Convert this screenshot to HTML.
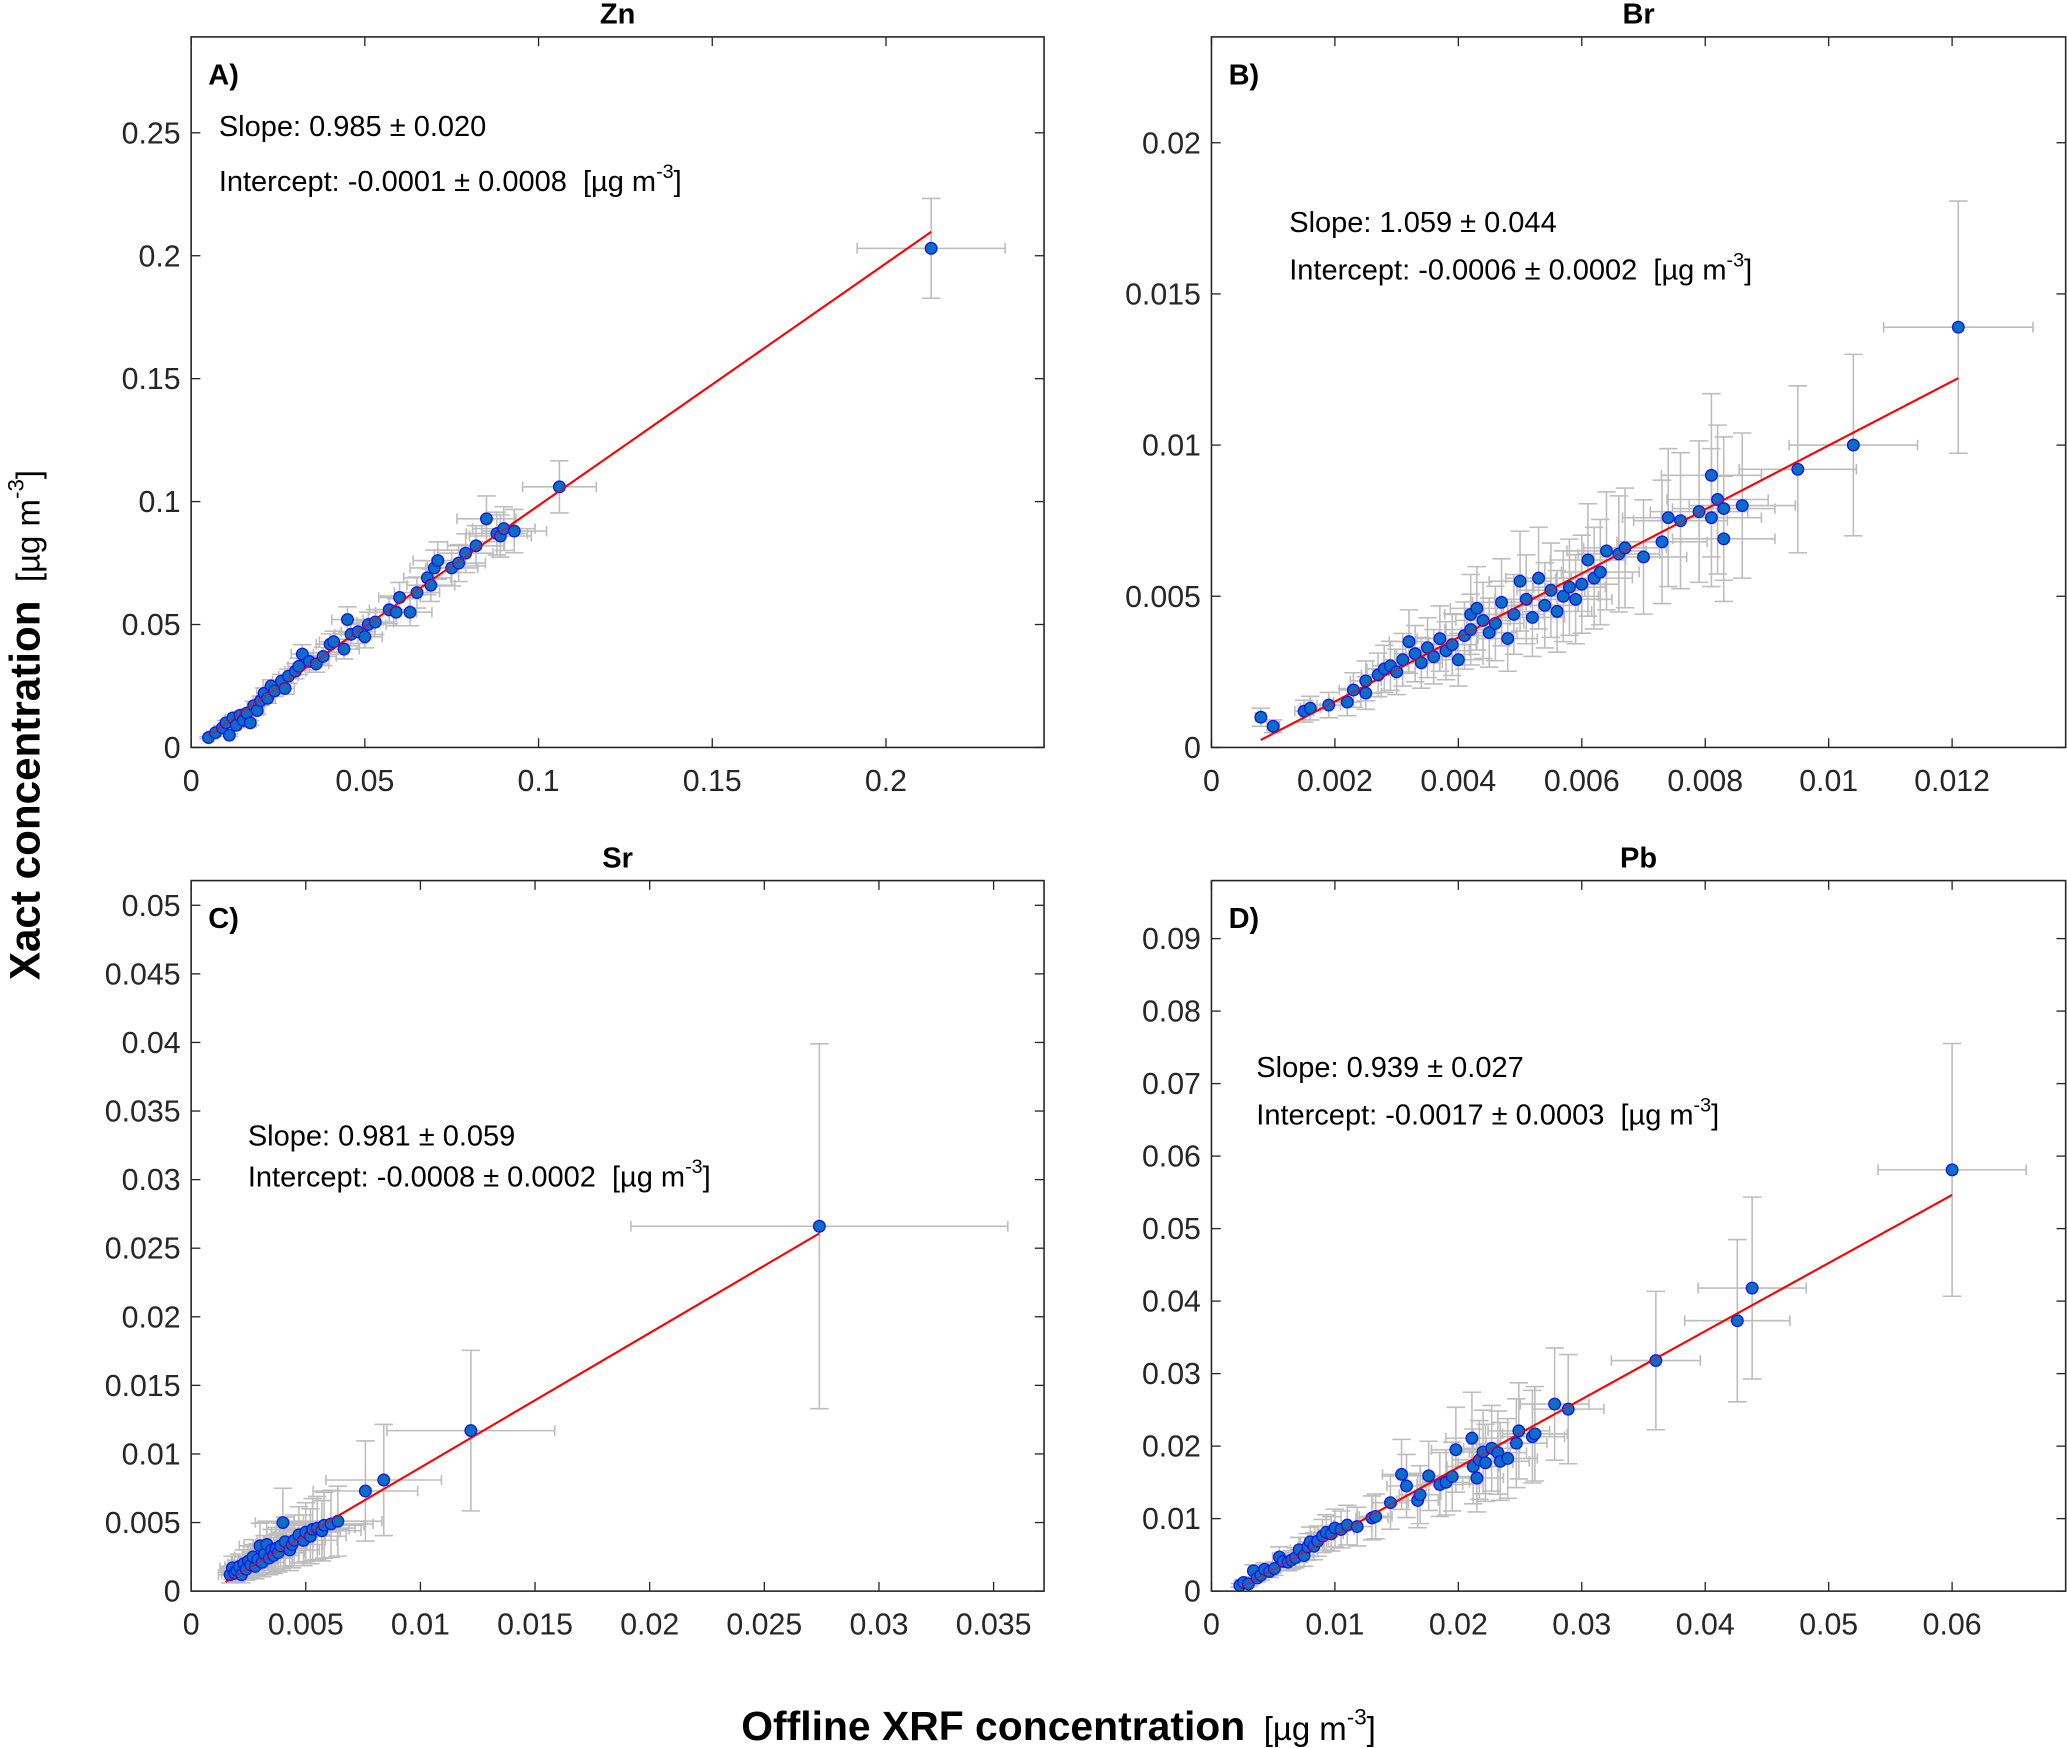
<!DOCTYPE html>
<html><head><meta charset="utf-8"><style>
html,body{margin:0;padding:0;background:#fff;}
svg{display:block;}
.tick{font-family:"Liberation Sans Narrow","Liberation Sans",sans-serif;font-size:23px;fill:#262626;}
.ann{font-family:"Liberation Sans",sans-serif;font-size:22px;fill:#000;white-space:pre;}
.ttl{font-family:"Liberation Sans",sans-serif;font-size:22px;font-weight:bold;fill:#000;}
</style></head><body>
<svg id="fig" xmlns="http://www.w3.org/2000/svg" width="2067" height="1748" viewBox="0 0 1568 1326">
<g id="root"></g>
<text transform="translate(30,550) rotate(-90)" text-anchor="middle" font-family="Liberation Sans, sans-serif"><tspan font-weight="bold" font-size="32">Xact concentration</tspan><tspan font-size="25" dx="14">[µg m</tspan><tspan font-size="17" dy="-12">-3</tspan><tspan font-size="25" dy="12">]</tspan></text>
<text x="803" y="1320" text-anchor="middle" font-family="Liberation Sans, sans-serif"><tspan font-weight="bold" font-size="31">Offline XRF concentration</tspan><tspan font-size="25" dx="14">[µg m</tspan><tspan font-size="17" dy="-12">-3</tspan><tspan font-size="25" dy="12">]</tspan></text>
</svg>
<script>
// Zn data [x, y]
const znPoints=[[0.005,0.004],[0.007,0.006],[0.009,0.008],[0.010,0.010],[0.011,0.005],[0.012,0.012],[0.013,0.009],[0.014,0.013],[0.015,0.011],[0.016,0.014],[0.017,0.010],[0.018,0.017],[0.019,0.015],[0.020,0.019],[0.021,0.022],[0.022,0.020],[0.023,0.025],[0.024,0.023],[0.026,0.027],[0.027,0.024],[0.028,0.029],[0.030,0.031],[0.031,0.033],[0.032,0.038],[0.034,0.035],[0.036,0.034],[0.038,0.037],[0.040,0.042],[0.041,0.043],[0.044,0.040],[0.045,0.052],[0.046,0.046],[0.048,0.047],[0.050,0.045],[0.051,0.050],[0.053,0.051],[0.057,0.056],[0.059,0.055],[0.060,0.061],[0.063,0.055],[0.065,0.063],[0.068,0.069],[0.069,0.066],[0.070,0.073],[0.071,0.076],[0.075,0.073],[0.077,0.075],[0.079,0.079],[0.082,0.082],[0.085,0.093],[0.088,0.087],[0.089,0.086],[0.090,0.089],[0.093,0.088],[0.106,0.106],[0.213,0.203]];
const brPoints=[[0.0008,0.0010],[0.0010,0.0007],[0.0015,0.0012],[0.0016,0.0013],[0.0019,0.0014],[0.0022,0.0015],[0.0023,0.0019],[0.0025,0.0018],[0.0025,0.0022],[0.0027,0.0024],[0.0028,0.0026],[0.0029,0.0027],[0.0030,0.0025],[0.0031,0.0029],[0.0032,0.0035],[0.0033,0.0031],[0.0034,0.0028],[0.0035,0.0033],[0.0036,0.0030],[0.0037,0.0036],[0.0038,0.0032],[0.0039,0.0034],[0.0040,0.0029],[0.0041,0.0037],[0.0042,0.0044],[0.0042,0.0039],[0.0043,0.0046],[0.0044,0.0042],[0.0045,0.0038],[0.0046,0.0041],[0.0047,0.0048],[0.0048,0.0036],[0.0049,0.0044],[0.0050,0.0055],[0.0051,0.0049],[0.0052,0.0043],[0.0053,0.0056],[0.0054,0.0047],[0.0055,0.0052],[0.0056,0.0045],[0.0057,0.0050],[0.0058,0.0053],[0.0059,0.0049],[0.0060,0.0054],[0.0061,0.0062],[0.0062,0.0056],[0.0063,0.0058],[0.0064,0.0065],[0.0066,0.0064],[0.0067,0.0066],[0.0070,0.0063],[0.0073,0.0068],[0.0074,0.0076],[0.0076,0.0075],[0.0079,0.0078],[0.0081,0.0090],[0.0081,0.0076],[0.0082,0.0082],[0.0083,0.0079],[0.0083,0.0069],[0.0086,0.0080],[0.0095,0.0092],[0.0104,0.0100],[0.0121,0.0139]];
const srPoints=[[0.0017,0.0012],[0.0018,0.0017],[0.0019,0.0013],[0.0020,0.0015],[0.0021,0.0018],[0.0022,0.0012],[0.0023,0.0020],[0.0024,0.0016],[0.0025,0.0022],[0.0026,0.0019],[0.0027,0.0025],[0.0028,0.0018],[0.0029,0.0023],[0.0030,0.0033],[0.0031,0.0021],[0.0032,0.0027],[0.0033,0.0034],[0.0034,0.0024],[0.0035,0.0030],[0.0036,0.0026],[0.0037,0.0031],[0.0038,0.0028],[0.0039,0.0033],[0.0040,0.0050],[0.0041,0.0036],[0.0043,0.0030],[0.0044,0.0034],[0.0045,0.0037],[0.0047,0.0041],[0.0049,0.0037],[0.0050,0.0043],[0.0052,0.0040],[0.0053,0.0045],[0.0055,0.0046],[0.0057,0.0044],[0.0058,0.0048],[0.0061,0.0049],[0.0064,0.0051],[0.0076,0.0073],[0.0084,0.0081],[0.0122,0.0117],[0.0274,0.0266]];
const pbPoints=[[0.0023,0.0008],[0.0026,0.0012],[0.0030,0.0010],[0.0034,0.0028],[0.0037,0.0018],[0.0040,0.0022],[0.0043,0.0030],[0.0047,0.0027],[0.0051,0.0031],[0.0055,0.0047],[0.0058,0.0041],[0.0062,0.0040],[0.0065,0.0043],[0.0068,0.0046],[0.0071,0.0057],[0.0075,0.0049],[0.0078,0.0061],[0.0080,0.0068],[0.0083,0.0062],[0.0086,0.0069],[0.0090,0.0076],[0.0093,0.0081],[0.0097,0.0079],[0.0100,0.0087],[0.0105,0.0085],[0.0110,0.0091],[0.0118,0.0089],[0.0130,0.0101],[0.0133,0.0103],[0.0145,0.0122],[0.0154,0.0161],[0.0158,0.0145],[0.0167,0.0125],[0.0169,0.0133],[0.0176,0.0159],[0.0185,0.0147],[0.0190,0.0150],[0.0195,0.0158],[0.0198,0.0195],[0.0211,0.0211],[0.0212,0.0172],[0.0215,0.0156],[0.0217,0.0181],[0.0220,0.0192],[0.0222,0.0177],[0.0227,0.0197],[0.0232,0.0191],[0.0234,0.0179],[0.0240,0.0183],[0.0247,0.0204],[0.0249,0.0221],[0.0260,0.0213],[0.0262,0.0217],[0.0278,0.0258],[0.0289,0.0251],[0.0360,0.0318],[0.0426,0.0373],[0.0438,0.0418],[0.0600,0.0581]];
// relative uncertainties [x, y]
const znRelErr=[0.10,0.10];
const brRelErr=[0.10,0.30];
const srRelErr=[0.30,0.50];
const pbRelErr=[0.10,0.30];
// fit [slope, intercept, xStart, xEnd]
const znFit=[0.985,-0.0001,0.005,0.213];
const brFit=[1.059,-0.0006,0.0008,0.0121];
const srFit=[0.981,-0.0008,0.0015,0.0274];
const pbFit=[0.939,-0.0017,0.0023,0.0600];
const znXTicks=[0,0.05,0.1,0.15,0.2], znYTicks=[0,0.05,0.1,0.15,0.2,0.25];
const brXTicks=[0,0.002,0.004,0.006,0.008,0.01,0.012], brYTicks=[0,0.005,0.01,0.015,0.02];
const srXTicks=[0,0.005,0.01,0.015,0.02,0.025,0.03,0.035], srYTicks=[0,0.005,0.01,0.015,0.02,0.025,0.03,0.035,0.04,0.045,0.05];
const pbXTicks=[0,0.01,0.02,0.03,0.04,0.05,0.06], pbYTicks=[0,0.01,0.02,0.03,0.04,0.05,0.06,0.07,0.08,0.09];
const znXMax=0.2455, znYMax=0.289, brXMax=0.01384, brYMax=0.0235, srXMax=0.0372, srYMax=0.0518, pbXMax=0.0692, pbYMax=0.098;

const NS='http://www.w3.org/2000/svg';
const root=document.getElementById('root');
function mk(tag,attrs,parent){const e=document.createElementNS(NS,tag);for(const k in attrs)e.setAttribute(k,attrs[k]);(parent||root).appendChild(e);return e;}

function panel(o){
  const g=mk('g',{});
  
  
  const X=v=>o.x0+(v/o.xMax)*(o.x1-o.x0);
  const Y=v=>o.y1-(v/o.yMax)*(o.y1-o.y0);
  const t=mk('text',{x:(o.x0+o.x1)/2,y:o.y0-10,'text-anchor':'middle',class:'ttl'},g);t.textContent=o.title;
  
  
  o.xt.forEach(v=>{
    const x=X(v);
    mk('line',{x1:x,x2:x,y1:o.y1,y2:o.y1-7,stroke:'#262626','stroke-width':1},g);
    mk('line',{x1:x,x2:x,y1:o.y0,y2:o.y0+7,stroke:'#262626','stroke-width':1},g);
    const l=mk('text',{x:x,y:o.y1+33,'text-anchor':'middle',class:'tick'},g);l.textContent=String(v);
    
    
  });
  o.yt.forEach(v=>{
    const y=Y(v);
    mk('line',{x1:o.x0,x2:o.x0+7,y1:y,y2:y,stroke:'#262626','stroke-width':1},g);
    mk('line',{x1:o.x1,x2:o.x1-7,y1:y,y2:y,stroke:'#262626','stroke-width':1},g);
    const l=mk('text',{x:o.x0-8,y:y+8,'text-anchor':'end',class:'tick'},g);l.textContent=String(v);
    
    
  });
  const eb=mk('g',{stroke:'#bdbdbd','stroke-width':1.2,fill:'none'},g);
  
  
  o.pts.forEach(p=>{
    const xe=p[0]*o.rel[0], ye=p[1]*o.rel[1];
    const cx=X(p[0]), cy=Y(p[1]);
    const xa=X(p[0]-xe), xb=X(p[0]+xe), ya=Y(p[1]-ye), yb=Y(p[1]+ye);
    mk('path',{d:`M${xa},${cy}H${xb}M${xa},${cy-4}V${cy+4}M${xb},${cy-4}V${cy+4}M${cx},${ya}V${yb}M${cx-7},${ya}H${cx+7}M${cx-7},${yb}H${cx+7}`},eb);
  });
  const f=o.fit;
  const fl=mk('line',{x1:X(f[2]),y1:Y(f[0]*f[2]+f[1]),x2:X(f[3]),y2:Y(f[0]*f[3]+f[1]),stroke:'#ff0000','stroke-width':1.6},g);
  
  
  o.pts.forEach(p=>{
    const c=mk('circle',{cx:X(p[0]),cy:Y(p[1]),r:4.4,fill:'#0a6fc2',stroke:'#1414f0','stroke-width':1},g);
    
    
  });
  mk('line',{x1:X(f[2]),y1:Y(f[0]*f[2]+f[1]),x2:X(f[3]),y2:Y(f[0]*f[3]+f[1]),stroke:'#ff0000','stroke-width':1.2,'stroke-opacity':0.6},g);
  const fr=mk('rect',{x:o.x0,y:o.y0,width:o.x1-o.x0,height:o.y1-o.y0,fill:'none',stroke:'#262626','stroke-width':1.2},g);
  
  
  const lab=mk('text',{x:o.x0+13,y:o.y0+36,class:'ann','font-weight':'bold','font-size':17},g);lab.textContent=o.label;
  
  
  const s=mk('text',{x:o.ax,y:o.ay1,class:'ann'},g);s.textContent=o.slope;
  
  
  const it=mk('text',{x:o.ax,y:o.ay2,class:'ann'},g);
  
  
  it.innerHTML=`<tspan>${o.icpt}  [µg m</tspan><tspan font-size="15" dy="-10">-3</tspan><tspan dy="10">]</tspan>`;
}
panel({name:'zn',title:'Zn',label:'A)',x0:145,x1:792,y0:28,y1:567,xMax:znXMax,yMax:znYMax,xt:znXTicks,yt:znYTicks,pts:znPoints,rel:znRelErr,fit:znFit,ax:166,ay1:103,ay2:145,slope:'Slope: 0.985 ± 0.020',icpt:'Intercept: -0.0001 ± 0.0008'});
panel({name:'br',title:'Br',label:'B)',x0:919,x1:1567,y0:28,y1:567,xMax:brXMax,yMax:brYMax,xt:brXTicks,yt:brYTicks,pts:brPoints,rel:brRelErr,fit:brFit,ax:978,ay1:176,ay2:212,slope:'Slope: 1.059 ± 0.044',icpt:'Intercept: -0.0006 ± 0.0002'});
panel({name:'sr',title:'Sr',label:'C)',x0:145,x1:792,y0:668,y1:1207,xMax:srXMax,yMax:srYMax,xt:srXTicks,yt:srYTicks,pts:srPoints,rel:srRelErr,fit:srFit,ax:188,ay1:869,ay2:900,slope:'Slope: 0.981 ± 0.059',icpt:'Intercept: -0.0008 ± 0.0002'});
panel({name:'pb',title:'Pb',label:'D)',x0:919,x1:1567,y0:668,y1:1207,xMax:pbXMax,yMax:pbYMax,xt:pbXTicks,yt:pbYTicks,pts:pbPoints,rel:pbRelErr,fit:pbFit,ax:953,ay1:817,ay2:853,slope:'Slope: 0.939 ± 0.027',icpt:'Intercept: -0.0017 ± 0.0003'});
</script>
</body></html>
